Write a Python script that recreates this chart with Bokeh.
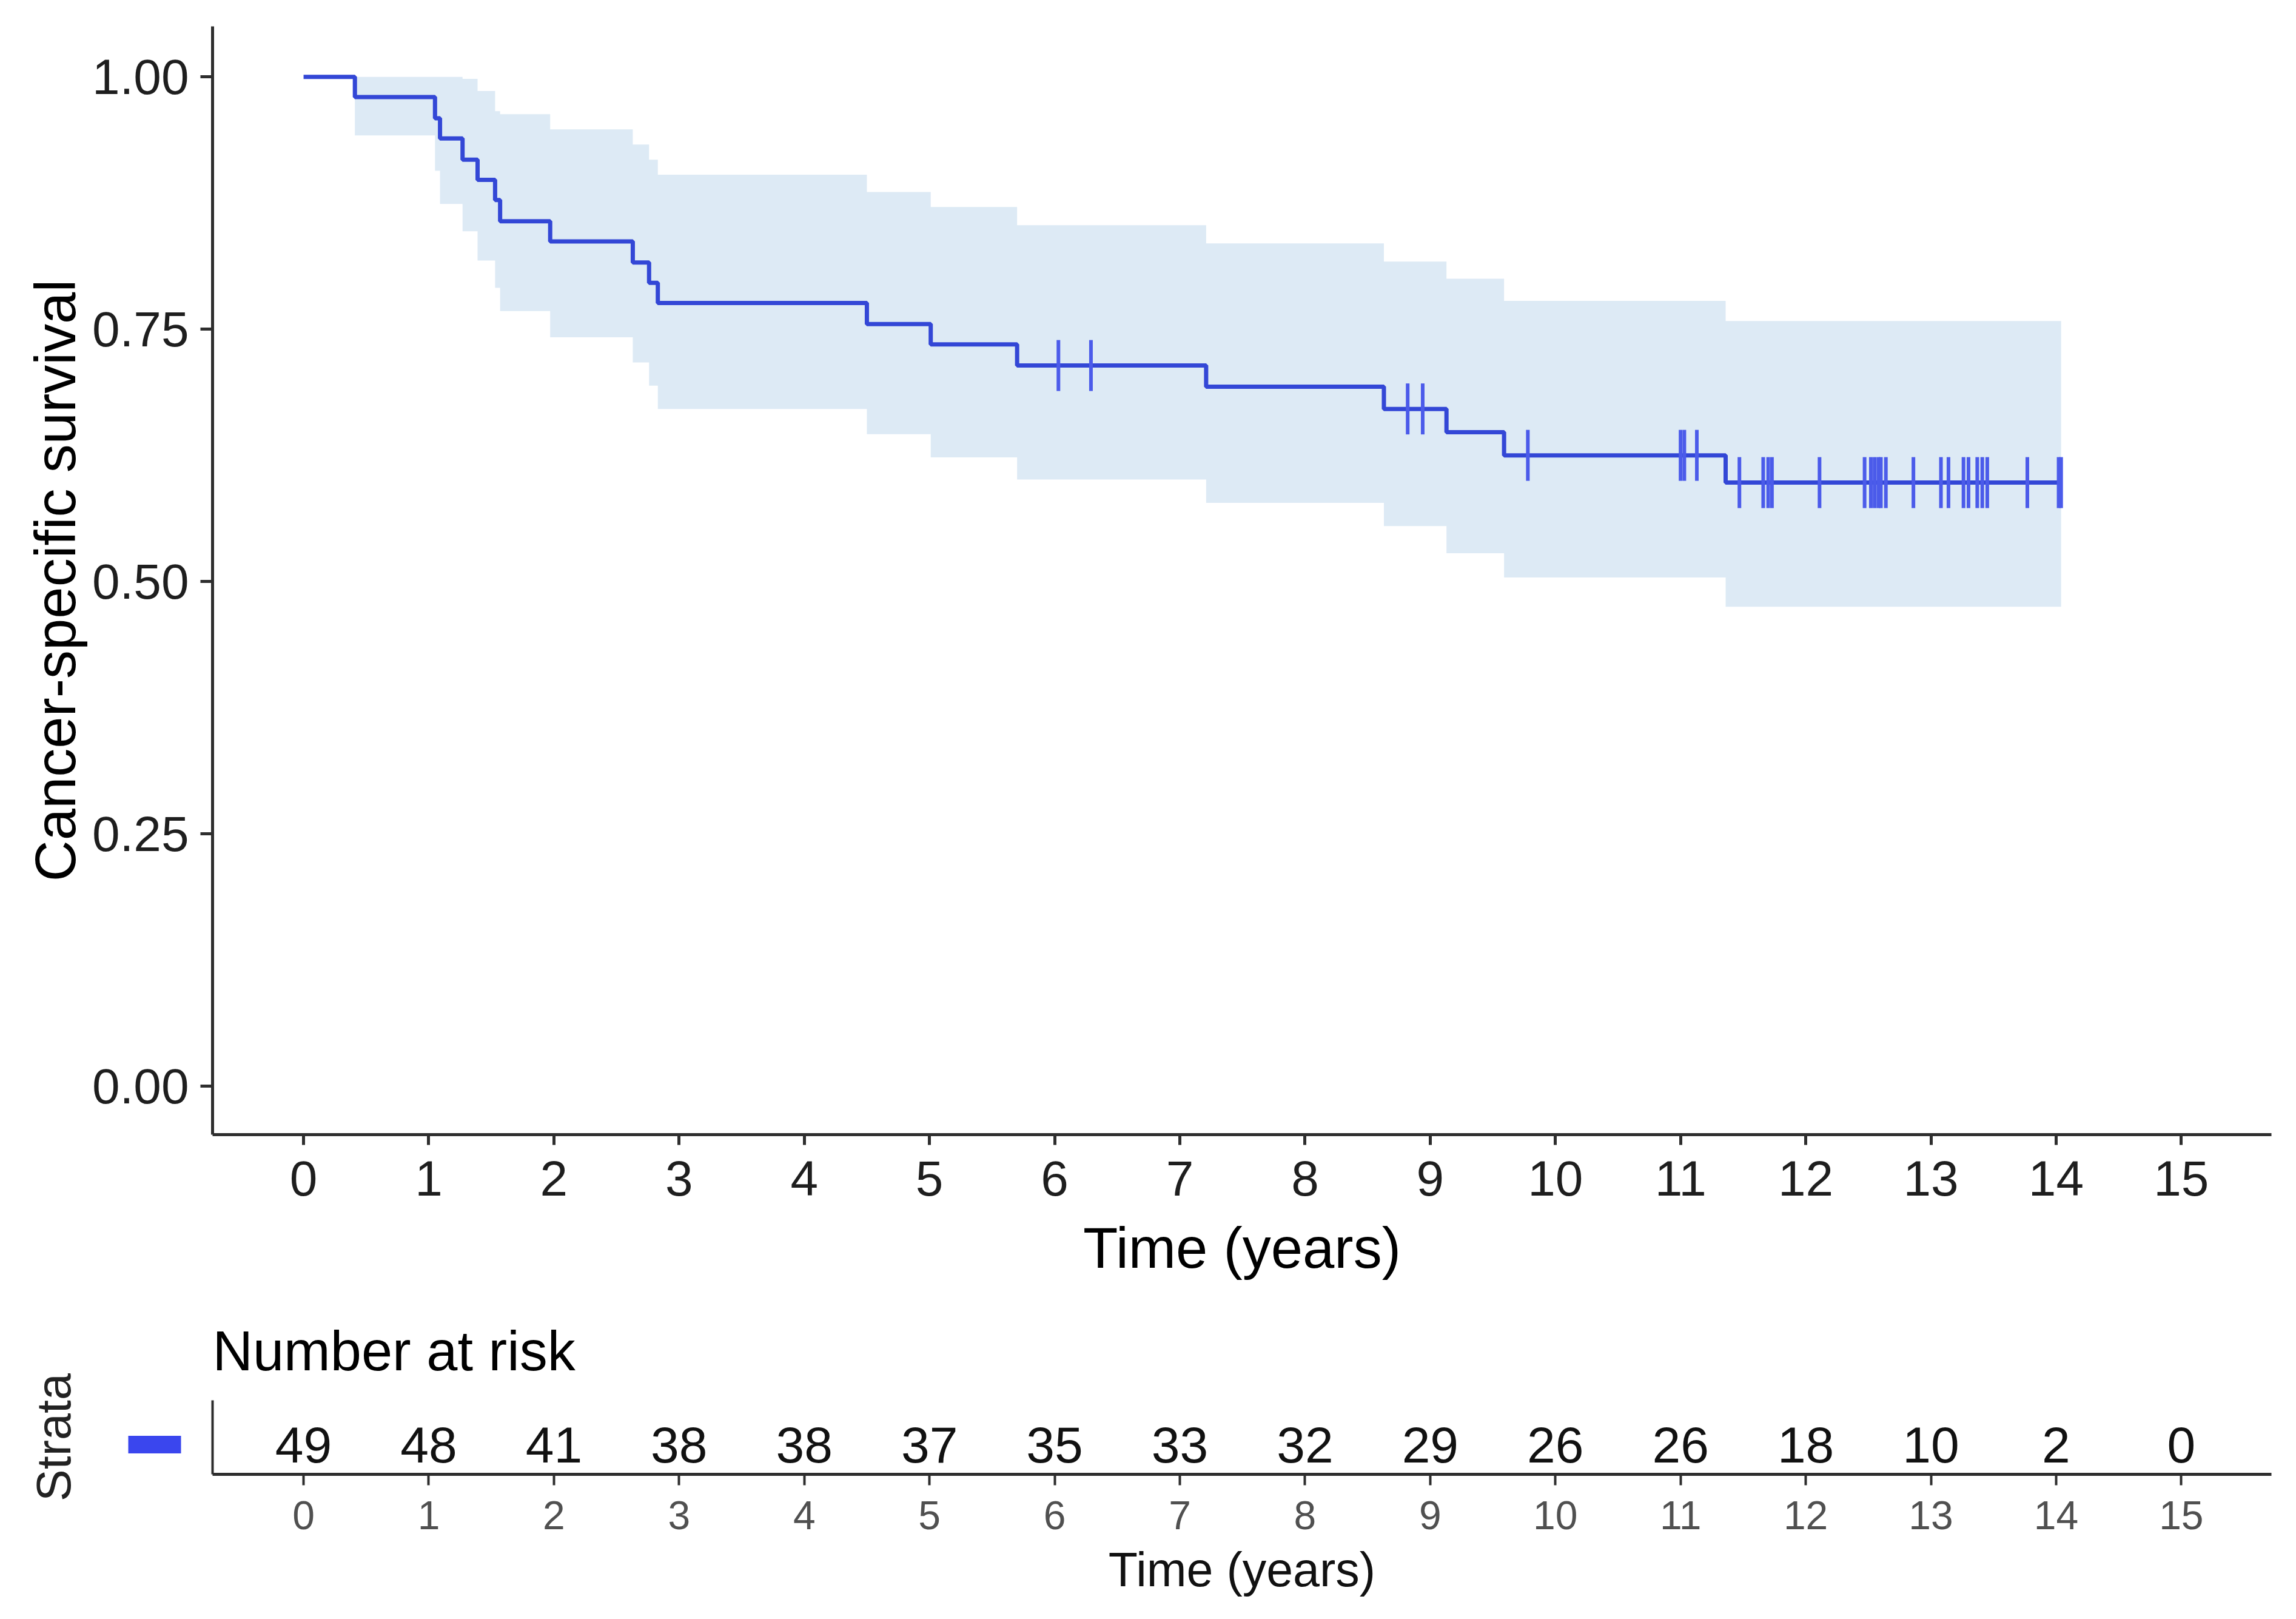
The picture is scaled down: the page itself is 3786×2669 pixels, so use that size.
import numpy as np
from bokeh.plotting import figure
from bokeh.models import Range1d, FixedTicker, NumeralTickFormatter
from bokeh.layouts import column
from bokeh.embed import file_html
from bokeh.resources import INLINE
from bokeh.core.properties import value

# ---------------- data ----------------
step_times = [0.00, 0.41, 1.05, 1.09, 1.27, 1.39, 1.53, 1.57, 1.97, 2.63, 2.76,
              2.83, 4.50, 5.01, 5.70, 7.21, 8.63, 9.13, 9.59, 11.36, 14.04]
survival = [1.000, 0.980, 0.959, 0.939, 0.918, 0.898, 0.878, 0.857, 0.837, 0.816,
            0.796, 0.776, 0.755, 0.735, 0.714, 0.693, 0.671, 0.648, 0.625, 0.598, 0.598]
ci_upper = [1.000, 1.000, 1.000, 1.000, 0.998, 0.986, 0.966, 0.963, 0.948, 0.933,
            0.918, 0.903, 0.886, 0.871, 0.853, 0.835, 0.817, 0.800, 0.778, 0.758, 0.758]
ci_lower = [1.000, 0.942, 0.907, 0.874, 0.847, 0.818, 0.791, 0.768, 0.742, 0.717,
            0.694, 0.671, 0.646, 0.623, 0.601, 0.578, 0.555, 0.528, 0.504, 0.475, 0.475]

censor_times = [6.03, 6.29, 8.82, 8.94, 9.78, 11.00, 11.03, 11.13,
                11.47, 11.66, 11.70, 11.73, 12.11, 12.47, 12.52, 12.55, 12.58,
                12.60, 12.64, 12.86, 13.08, 13.14, 13.26, 13.30, 13.37, 13.41,
                13.45, 13.77, 14.02, 14.04]
censor_surv = [0.714, 0.714, 0.671, 0.671, 0.625, 0.625, 0.625, 0.625,
               0.598, 0.598, 0.598, 0.598, 0.598, 0.598, 0.598, 0.598, 0.598,
               0.598, 0.598, 0.598, 0.598, 0.598, 0.598, 0.598, 0.598, 0.598,
               0.598, 0.598, 0.598, 0.598]

risk_times = list(range(16))
risk_counts = [49, 48, 41, 38, 38, 37, 35, 33, 32, 29, 26, 26, 18, 10, 2, 0]

x_ticks = list(range(16))
y_ticks = [0.0, 0.25, 0.5, 0.75, 1.0]

# ---------------- styles ----------------
FONT = "Liberation Sans"
LINE_COLOR = "#3347D6"
CENSOR_COLOR = "#4B5BEA"
BAND_COLOR = "#DDEAF5"
STRATA_COLOR = "#3A46EE"
AXIS_COLOR = "#2E2E2E"

X_START, X_END = -0.727, 15.72
RISK_ROW_Y = 0.4

# ---------------- main survival plot ----------------
p = figure(width=3770, height=2141, output_backend="svg", toolbar_location=None,
           title=None,
           x_range=Range1d(X_START, X_END), y_range=Range1d(-0.048, 1.050),
           min_border_left=350, min_border_right=25, min_border_top=43,
           min_border_bottom=271)
p.outline_line_color = None
p.xgrid.visible = False
p.ygrid.visible = False
p.background_fill_color = "white"
p.border_fill_color = "white"

p.varea_step(x=step_times, y1=ci_lower, y2=ci_upper, step_mode="after",
             fill_color=BAND_COLOR, fill_alpha=1.0)
p.step(x=step_times, y=survival, mode="after", line_color=LINE_COLOR,
       line_width=7)
p.scatter(x=censor_times, y=censor_surv, marker="dash", angle=np.pi / 2,
          size=84, line_color=CENSOR_COLOR, line_width=6)

for ax in (p.xaxis[0], p.yaxis[0]):
    ax.axis_line_color = AXIS_COLOR
    ax.axis_line_width = 5
    ax.major_tick_line_color = AXIS_COLOR
    ax.major_tick_line_width = 5
    ax.major_tick_in = 0
    ax.minor_tick_line_color = None
    ax.major_label_text_font = FONT
    ax.major_label_text_font_size = "82px"
    ax.major_label_text_color = "#1E1E1E"
    ax.axis_label_text_font = FONT
    ax.axis_label_text_font_size = "94px"
    ax.axis_label_text_font_style = "normal"
    ax.axis_label_text_color = "#000000"

p.xaxis.ticker = FixedTicker(ticks=x_ticks)
p.xaxis.major_tick_out = 17
p.xaxis.major_label_standoff = 26
p.xaxis.axis_label = "Time (years)"
p.xaxis.axis_label_standoff = 31

p.yaxis.ticker = FixedTicker(ticks=y_ticks)
p.yaxis.formatter = NumeralTickFormatter(format="0.00")
p.yaxis.major_tick_out = 20
p.yaxis.major_label_standoff = 19
p.yaxis.axis_label = "Cancer-specific survival"
p.yaxis.axis_label_standoff = 5

# ---------------- risk table ----------------
r = figure(width=3770, height=512, output_backend="svg", toolbar_location=None,
           x_range=Range1d(X_START, X_END), y_range=Range1d(0, 1),
           min_border_left=350, min_border_right=25, min_border_top=167,
           min_border_bottom=223)
r.outline_line_color = None
r.xgrid.visible = False
r.ygrid.visible = False
r.background_fill_color = "white"
r.border_fill_color = "white"

r.text(x=risk_times, y=[RISK_ROW_Y] * len(risk_times),
       text=[str(n) for n in risk_counts],
       text_font=value(FONT), text_font_size="84px", text_color="#111111",
       text_align="center", text_baseline="middle")

r.title.text = "Number at risk"
r.title.text_font = FONT
r.title.text_font_size = "92px"
r.title.text_font_style = "normal"
r.title.text_color = "#000000"
r.title.align = "left"
r.title.standoff = 61

rx = r.xaxis[0]
rx.ticker = FixedTicker(ticks=x_ticks)
rx.axis_line_color = AXIS_COLOR
rx.axis_line_width = 5
rx.major_tick_line_color = AXIS_COLOR
rx.major_tick_line_width = 4
rx.major_tick_in = 0
rx.major_tick_out = 18
rx.minor_tick_line_color = None
rx.major_label_text_font = FONT
rx.major_label_text_font_size = "66px"
rx.major_label_text_color = "#505050"
rx.major_label_standoff = 26
rx.axis_label = "Time (years)"
rx.axis_label_text_font = FONT
rx.axis_label_text_font_size = "79px"
rx.axis_label_text_font_style = "normal"
rx.axis_label_text_color = "#111111"
rx.axis_label_standoff = 19

# strata axis: the single stratum row is keyed by a thick coloured tick
ry = r.yaxis[0]
ry.ticker = FixedTicker(ticks=[RISK_ROW_Y])
ry.major_label_overrides = {RISK_ROW_Y: " "}
ry.major_label_text_font_size = "1px"
ry.major_label_standoff = 0
ry.axis_line_color = AXIS_COLOR
ry.axis_line_width = 4
ry.major_tick_out = 139
ry.major_tick_in = -52
ry.major_tick_line_width = 29
ry.major_tick_line_color = STRATA_COLOR
ry.major_tick_line_cap = "butt"
ry.minor_tick_out = 0
ry.minor_tick_in = 0
ry.minor_tick_line_color = None
ry.axis_label = "Strata"
ry.axis_label_text_font = FONT
ry.axis_label_text_font_size = "79px"
ry.axis_label_text_font_style = "normal"
ry.axis_label_text_color = "#222222"
ry.axis_label_standoff = 75

layout = column(p, r, spacing=0)
open("out.html", "w").write(file_html(layout, INLINE))
